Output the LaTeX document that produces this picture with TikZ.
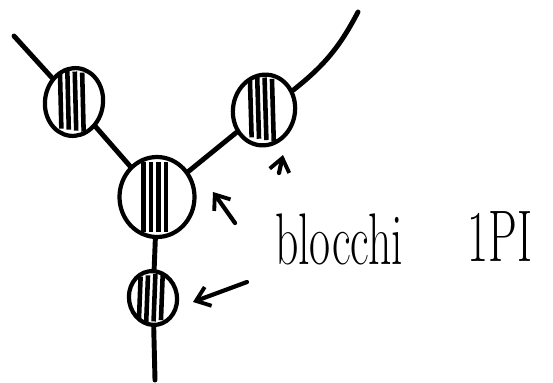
\documentclass[tikz,border=0pt]{standalone}
\usetikzlibrary{shapes.geometric,arrows.meta}
\tikzset{
		% blobs: hatched ellipses standing on the lines
		blob node/.style={ellipse,draw,line width=2.4pt,inner sep=0,fill=white,
			path picture={
				\foreach \x in {-0.27,-0.12,...,0.3}
				\draw[line width=2.6pt] ([xshift=\x cm,yshift=-3pt]path picture bounding box.north) -- ([xshift=\x cm,yshift=3pt]path picture bounding box.south);
			}},
		leg/.style={line width=2.8pt,line cap=round},
		pointer/.style={line width=2.4pt,line cap=round,-{Straight Barb[length=2.6mm,width=4mm,line width=2.2pt]}},
		label node/.style={font=\fontsize{26}{30}\selectfont,yscale=1.6,transform shape,inner sep=0}
	}
\begin{document}
\begin{tikzpicture}
		\useasboundingbox (0,0) rectangle (11.06,7.64);
		% the four blobs
		\node [blob node,minimum width=1.16cm,minimum height=1.36cm,rotate=-8] (L) at (1.48,5.6) {};
		\node [blob node,minimum width=1.5cm,minimum height=1.6cm] (C) at (3.14,3.7) {};
		\node [blob node,minimum width=1.24cm,minimum height=1.42cm,rotate=-10] (R) at (5.28,5.44) {};
		\node [blob node,minimum width=0.96cm,minimum height=1.08cm,rotate=10] (S) at (3.06,1.68) {};
		% free ends of the legs
		\coordinate (top left) at (0.28,6.92);
		\coordinate (top right) at (7.16,7.4);
		\coordinate (bottom) at (3.1,0.04);
		\draw [leg] (top left) -- (L);
		\draw [leg] (L) -- (C);
		\draw [leg] (R) -- (C);
		\draw [leg] (R) to[bend right=12] (top right);
		\draw [leg] (C) -- (S);
		\draw [leg] (S) -- (bottom);
		% labels
		\node [label node] (blocchi) at (6.78,2.86) {blocchi};
		\node [label node] (1PI) at (10.0,2.9) {1PI};
		% pointers
		\coordinate (p1 tail) at (5.58,4.18);
		\coordinate (p1 tip) at (5.66,4.54);
		\coordinate (p2 tail) at (4.7,3.18);
		\coordinate (p2 tip) at (4.26,3.8);
		\coordinate (p3 tail) at (4.94,2.0);
		\coordinate (p3 tip) at (3.86,1.6);
		\draw [pointer] (p1 tail) -- (p1 tip);
		\draw [pointer] (p2 tail) -- (p2 tip);
		\draw [pointer] (p3 tail) -- (p3 tip);
	\end{tikzpicture}
\end{document}
